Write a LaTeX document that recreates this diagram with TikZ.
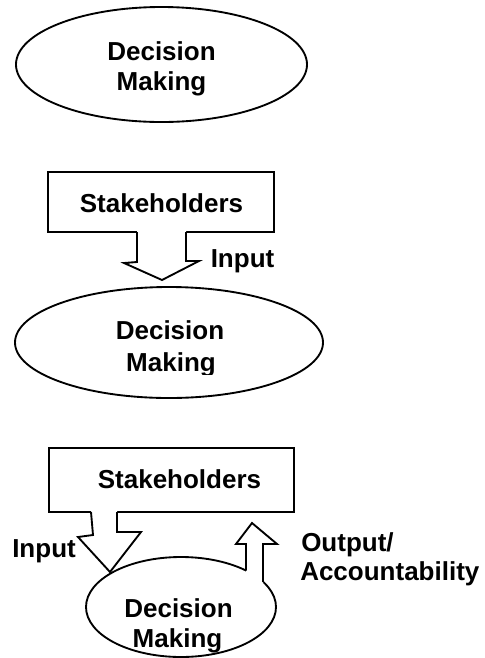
\documentclass[tikz,border=0pt]{standalone}
\usepackage{fontspec}
\setmainfont{Liberation Sans}
\usetikzlibrary{shapes.geometric}
\begin{document}
\begin{tikzpicture}[x=0.75pt,y=-0.75pt,
  lw/.style={line width=1.4pt, line join=miter},
  oval/.style={ellipse, draw, lw, inner sep=0pt, outer sep=0pt},
  panel/.style={rectangle, draw, lw, inner sep=0pt, outer sep=0pt},
  word/.style={font=\fontsize{19.5}{22}\selectfont\bfseries, inner sep=0pt, anchor=base},
  wordl/.style={word, anchor=base west},
  blockfill/.style={fill=white},
  blockline/.style={draw, lw}
]
\useasboundingbox (0,0) rectangle (485,658);

% ---------- first stage: decision making alone ----------
\node[oval, minimum width=218.25pt, minimum height=86.25pt] (dm1) at (161.5,64.5) {};
\node[word] (dm1a) at (161.5,60) {Decision};
\node[word] (dm1b) at (161.5,90) {Making};

% ---------- second stage: stakeholders give input ----------
\node[panel, minimum width=169.5pt, minimum height=45pt] (sh2) at (161,202) {};
\node[word] (sh2t) at (161.5,212) {Stakeholders};
% input block arrow
\fill[blockfill] (137,230.6) -- (137,262) -- (124,263) -- (162,280) -- (199,261)
  -- (186,261) -- (186,230.6) -- cycle;
\draw[blockline] (137,232) -- (137,262) -- (124,263) -- (162,280) -- (199,261)
  -- (186,261) -- (186,232);
\node[wordl] (in2) at (210.5,267) {Input};

\node[oval, minimum width=231pt, minimum height=83.25pt] (dm2) at (169,342.5) {};
\node[word] (dm2a) at (170,339.5) {Decision};
\begin{scope}
  \clip (0,0) rectangle (485,374.5);
  \node[word] (dm2b) at (171,371.5) {Making};
\end{scope}

% ---------- third stage: input and output / accountability ----------
\node[panel, minimum width=183.75pt, minimum height=48pt] (sh3) at (171.5,480) {};
\node[word] (sh3t) at (179.5,488) {Stakeholders};
% input block arrow
\fill[blockfill] (91,510.6) -- (93,535) -- (78,537) -- (110,572) -- (141,532)
  -- (117,532) -- (117,510.6) -- cycle;
\draw[blockline] (91,512) -- (93,535) -- (78,537) -- (110,572) -- (141,532)
  -- (117,532) -- (117,512);
\node[wordl] (in3) at (12,557) {Input};

\node[oval, minimum width=142.5pt, minimum height=75pt] (dm3) at (181,607) {};
% output block arrow rising from the ellipse
\fill[blockfill] (246,570.5) -- (246,544) -- (236,544) -- (252,523) -- (277,544)
  -- (263,544) -- (263,590) -- (246,590) -- cycle;
\draw[blockline] (246,570.5) -- (246,544) -- (236,544) -- (252,523) -- (277,544)
  -- (263,544) -- (263,582);
\node[word] (dm3a) at (178.5,617) {Decision};
\node[word] (dm3b) at (177.5,647) {Making};

\node[wordl] (out3a) at (301,551.5) {Output/};
\node[wordl] (out3b) at (300,580) {Accountability};
\end{tikzpicture}
\end{document}
